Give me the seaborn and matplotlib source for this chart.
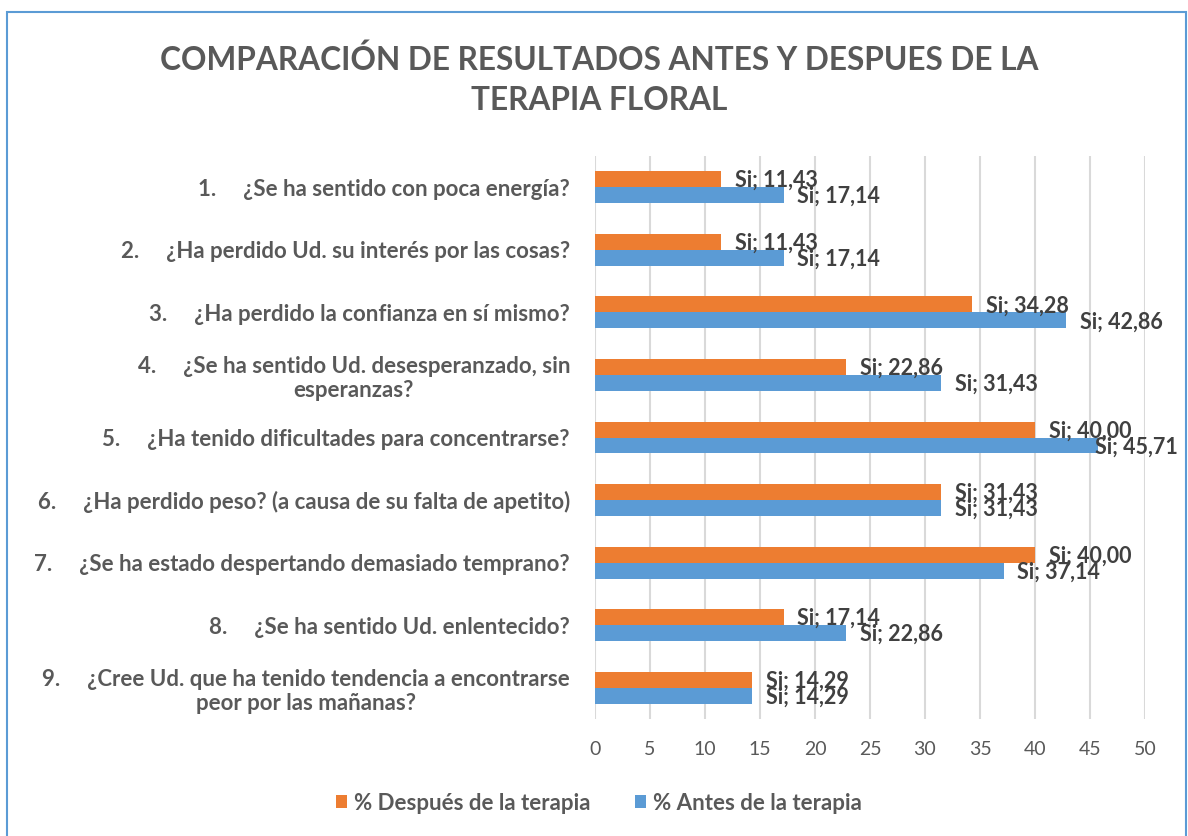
import matplotlib
matplotlib.use("Agg")
import matplotlib.pyplot as plt
import seaborn as sns
import pandas as pd
from matplotlib.patches import Rectangle

preguntas = [
    "1.     ¿Se ha sentido con poca energía?",
    "2.     ¿Ha perdido Ud. su interés por las cosas?",
    "3.     ¿Ha perdido la confianza en sí mismo?",
    "4.     ¿Se ha sentido Ud. desesperanzado, sin\nesperanzas?",
    "5.     ¿Ha tenido dificultades para concentrarse?",
    "6.     ¿Ha perdido peso? (a causa de su falta de apetito)",
    "7.     ¿Se ha estado despertando demasiado temprano?",
    "8.     ¿Se ha sentido Ud. enlentecido?",
    "9.     ¿Cree Ud. que ha tenido tendencia a encontrarse\npeor por las mañanas?",
]
despues = [11.43, 11.43, 34.28, 22.86, 40.00, 31.43, 40.00, 17.14, 14.29]
antes = [17.14, 17.14, 42.86, 31.43, 45.71, 31.43, 37.14, 22.86, 14.29]
series = ["% Después de la terapia", "% Antes de la terapia"]
titulo = "COMPARACIÓN DE RESULTADOS ANTES Y DESPUES DE LA\nTERAPIA FLORAL"
xticks = [0, 5, 10, 15, 20, 25, 30, 35, 40, 45, 50]

df = pd.DataFrame({
    "pregunta": preguntas * 2,
    "serie": [series[0]] * len(preguntas) + [series[1]] * len(preguntas),
    "valor": despues + antes,
})

sns.set_theme(style="white")
plt.rcParams["font.family"] = ["Lato", "DejaVu Sans"]

ORANGE = "#ed7d31"
BLUE = "#5b9bd5"
TXT = "#595959"
DARK = "#404040"

fig = plt.figure(figsize=(11.88, 8.36), dpi=100)
ax = fig.add_axes([595 / 1188, 1 - 719 / 836, (1145 - 595) / 1188, (719 - 156) / 836])

sns.barplot(data=df, y="pregunta", x="valor", hue="serie", hue_order=series,
            palette=[ORANGE, BLUE], width=0.51, orient="h", ax=ax,
            order=preguntas, linewidth=0, saturation=1, legend=False)

ax.set_xlim(0, 50)
ax.set_xticks(xticks)
ax.set_xticklabels([str(t) for t in xticks])
ax.set_ylim(len(preguntas) - 0.5, -0.5)
ax.set_xlabel("")
ax.set_ylabel("")
for s in ax.spines.values():
    s.set_visible(False)
ax.xaxis.grid(True, color="#d9d9d9", linewidth=1.5)
ax.yaxis.grid(False)
ax.set_axisbelow(True)
ax.tick_params(axis="x", length=0, pad=16, labelsize=14, labelcolor=TXT)
ax.tick_params(axis="y", length=0, pad=18, labelsize=16, labelcolor=TXT)
for t in ax.get_yticklabels():
    t.set_fontweight("bold")
    t.set_multialignment("center")
for t in ax.get_xticklabels():
    t.set_fontweight("normal")

# data labels
texts = []
for cont, vals in zip(ax.containers, [despues, antes]):
    for bar, v in zip(cont, vals):
        y = bar.get_y() + bar.get_height() / 2
        txt = ax.annotate(f"Si; {v:.2f}".replace(".", ","), xy=(v, y),
                          xytext=(10, -1), textcoords="offset points",
                          ha="left", va="center", fontsize=15.5,
                          fontweight="bold", color=DARK, annotation_clip=False)
        texts.append(txt)

fig.canvas.draw()
r = fig.canvas.get_renderer()
for txt in texts:
    bb = txt.get_window_extent(r)
    limit = 1178
    if bb.x1 > limit:
        dx = (bb.x1 - limit) * 72 / fig.dpi
        ox, oy = txt.xyann
        txt.xyann = (ox - dx, oy)

fig.text(599 / 1188, 1 - 80 / 836, titulo, ha="center", va="center",
         fontsize=22.8, fontweight="bold", color=TXT, linespacing=1.45)

handles = [Rectangle((0, 0), 1, 1, facecolor=c, edgecolor="none") for c in [ORANGE, BLUE]]
leg = fig.legend(handles, series, loc="center", bbox_to_anchor=(599 / 1188, 1 - 803 / 836),
                 ncol=2, frameon=False, handlelength=0.5, handleheight=0.5,
                 handletextpad=0.3, columnspacing=2.0,
                 prop={"size": 16, "weight": "bold"})
for t in leg.get_texts():
    t.set_color(TXT)

border = Rectangle((7 / 1188, -0.05), (1186 - 7) / 1188, 1.05 - 12 / 836,
                   transform=fig.transFigure, fill=False, edgecolor=BLUE,
                   linewidth=1.5)
fig.patches.append(border)

fig.savefig("out.png", dpi=100)
